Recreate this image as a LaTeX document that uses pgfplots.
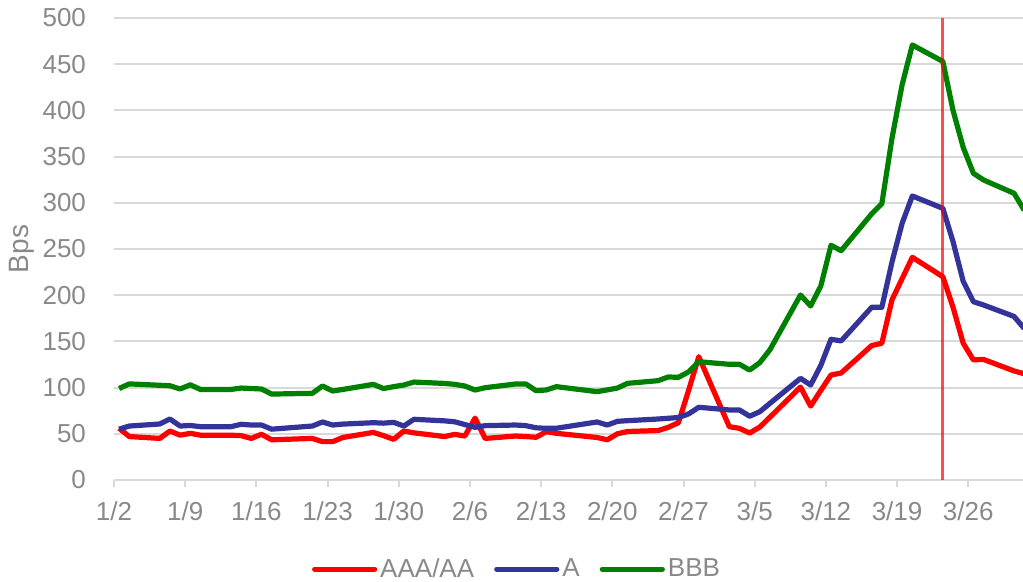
\documentclass[border=0pt]{standalone}
\usepackage{pgfplots}
\pgfplotsset{compat=1.18}
\usepackage{pgfplotstable}
\usepackage{fontspec}
\setmainfont{Liberation Sans}
\definecolor{txtgray}{HTML}{898989}
\definecolor{gridgray}{HTML}{D9D9D9}
\definecolor{sred}{HTML}{FF0000}
\definecolor{sblue}{HTML}{333399}
\definecolor{sgreen}{HTML}{008000}

\pgfplotstableread{
x r b g
0.5 56 55 99
1.5 47 58.4 104
4.5 45 60.6 102.5
5.5 53 66 102
6.5 48.5 58.4 98.5
7.5 50.5 59 103
8.5 48.5 57.7 98
11.5 48.5 57.7 98
12.5 48 60.3 99.5
13.5 45 59.5 99
14.5 49.5 59.5 98.5
15.5 43.5 55 93
19.5 45 58.4 93.8
20.5 41.5 62.8 101.7
21.5 41.5 59.5 96.3
22.5 46 60.5 98
25.5 51.5 62 103.5
26.5 48 61.5 99
27.5 44 62.4 101
28.5 53 58.4 102.8
29.5 51 65.7 106
32.5 47 64 104.5
33.5 49.4 63 103.5
34.5 47.6 60 101.7
35.5 67 57 97.4
36.5 45 58.8 99.9
39.5 47.6 59.5 103.9
40.5 47 58.8 103.9
41.5 46.2 56.5 96.7
42.5 52.3 55.9 97.4
43.5 50.5 56 101
47.5 46 62.8 95.6
48.5 43.5 59.5 97.5
49.5 50 63.5 99.5
50.5 52.5 64.2 104.6
53.5 53.5 66 107.5
54.5 57 66.8 111.5
55.5 62 67.6 111.1
56.5 97 71.5 117
57.5 133.4 78.7 128
60.5 57.7 75.8 125.2
61.5 55.9 75.8 125.2
62.5 50.8 69 119
63.5 57.3 73.9 127
64.5 68 83 141
67.5 100.5 110 200.2
68.5 80 102.8 188.3
69.5 97 124 210
70.5 113.6 152.3 254
71.5 115.8 150.5 248.2
74.5 145.5 186.9 288
75.5 148 186.9 299
76.5 195 236 370
77.5 218 278 428
78.5 241 307.4 470.8
81.5 220 294 453
82.5 187 258 400
83.5 148 215 360
84.5 130 193 332
85.5 130.5 189.4 324.7
88.5 118 177 310.3
89.5 115 164 292
}\data

\begin{document}
\begin{tikzpicture}
\begin{axis}[
  at={(0,0)}, anchor=south west,
  scale only axis, width=454.5pt, height=231pt,
  xmin=0, xmax=89.38, ymin=0, ymax=500,
  ytick={0,50,...,500},
  xtick={0,7,...,84},
  xticklabels={1/2,1/9,1/16,1/23,1/30,2/6,2/13,2/20,2/27,3/5,3/12,3/19,3/26},
  axis x line*=bottom, axis y line*=left,
  y axis line style={draw=none},
  x axis line style={gridgray, line width=1pt, -},
  xtick style={gridgray, line width=1pt},
  ytick style={draw=none},
  tick align=outside, major tick length=3.5pt,
  ymajorgrids, grid style={gridgray, line width=1pt},
  tick label style={text=txtgray, font=\fontsize{13pt}{15pt}\selectfont},
  yticklabel style={xshift=-7pt},
  xticklabel style={yshift=-4pt},
  /pgf/number format/assume math mode=true,
  ylabel={Bps},
  ylabel style={at={(axis description cs:-0.1012,0.5)}, anchor=center, text=txtgray, font=\fontsize{14pt}{16pt}\selectfont},
  legend style={at={(axis description cs:0.4439,-0.193)}, anchor=center, draw=none, fill=none,
    font=\fontsize{13pt}{15pt}\selectfont, text=txtgray, inner sep=0pt,
    nodes={inner sep=1.5pt},
    /tikz/every even column/.append style={column sep=8.5pt}},
  legend columns=3,
  legend cell align=left,
  legend image code/.code={\draw[#1, line cap=round] (0pt,0pt) -- (30pt,0pt);},
]
\addplot[sred, line width=2.6pt, line join=round] table[x=x,y=r]{\data};
\addlegendentry{AAA/AA}
\addplot[sblue, line width=2.6pt, line join=round] table[x=x,y=b]{\data};
\addlegendentry{A}
\addplot[sgreen, line width=2.6pt, line join=round] table[x=x,y=g]{\data};
\addlegendentry{BBB}
\addplot[sred, opacity=0.7, line width=1.5pt, forget plot] coordinates {(81.5,0) (81.5,500)};
\end{axis}
\pgfresetboundingbox
\path[use as bounding box] (-57pt,-51pt) rectangle (454.5pt,240pt);
\end{tikzpicture}
\end{document}
